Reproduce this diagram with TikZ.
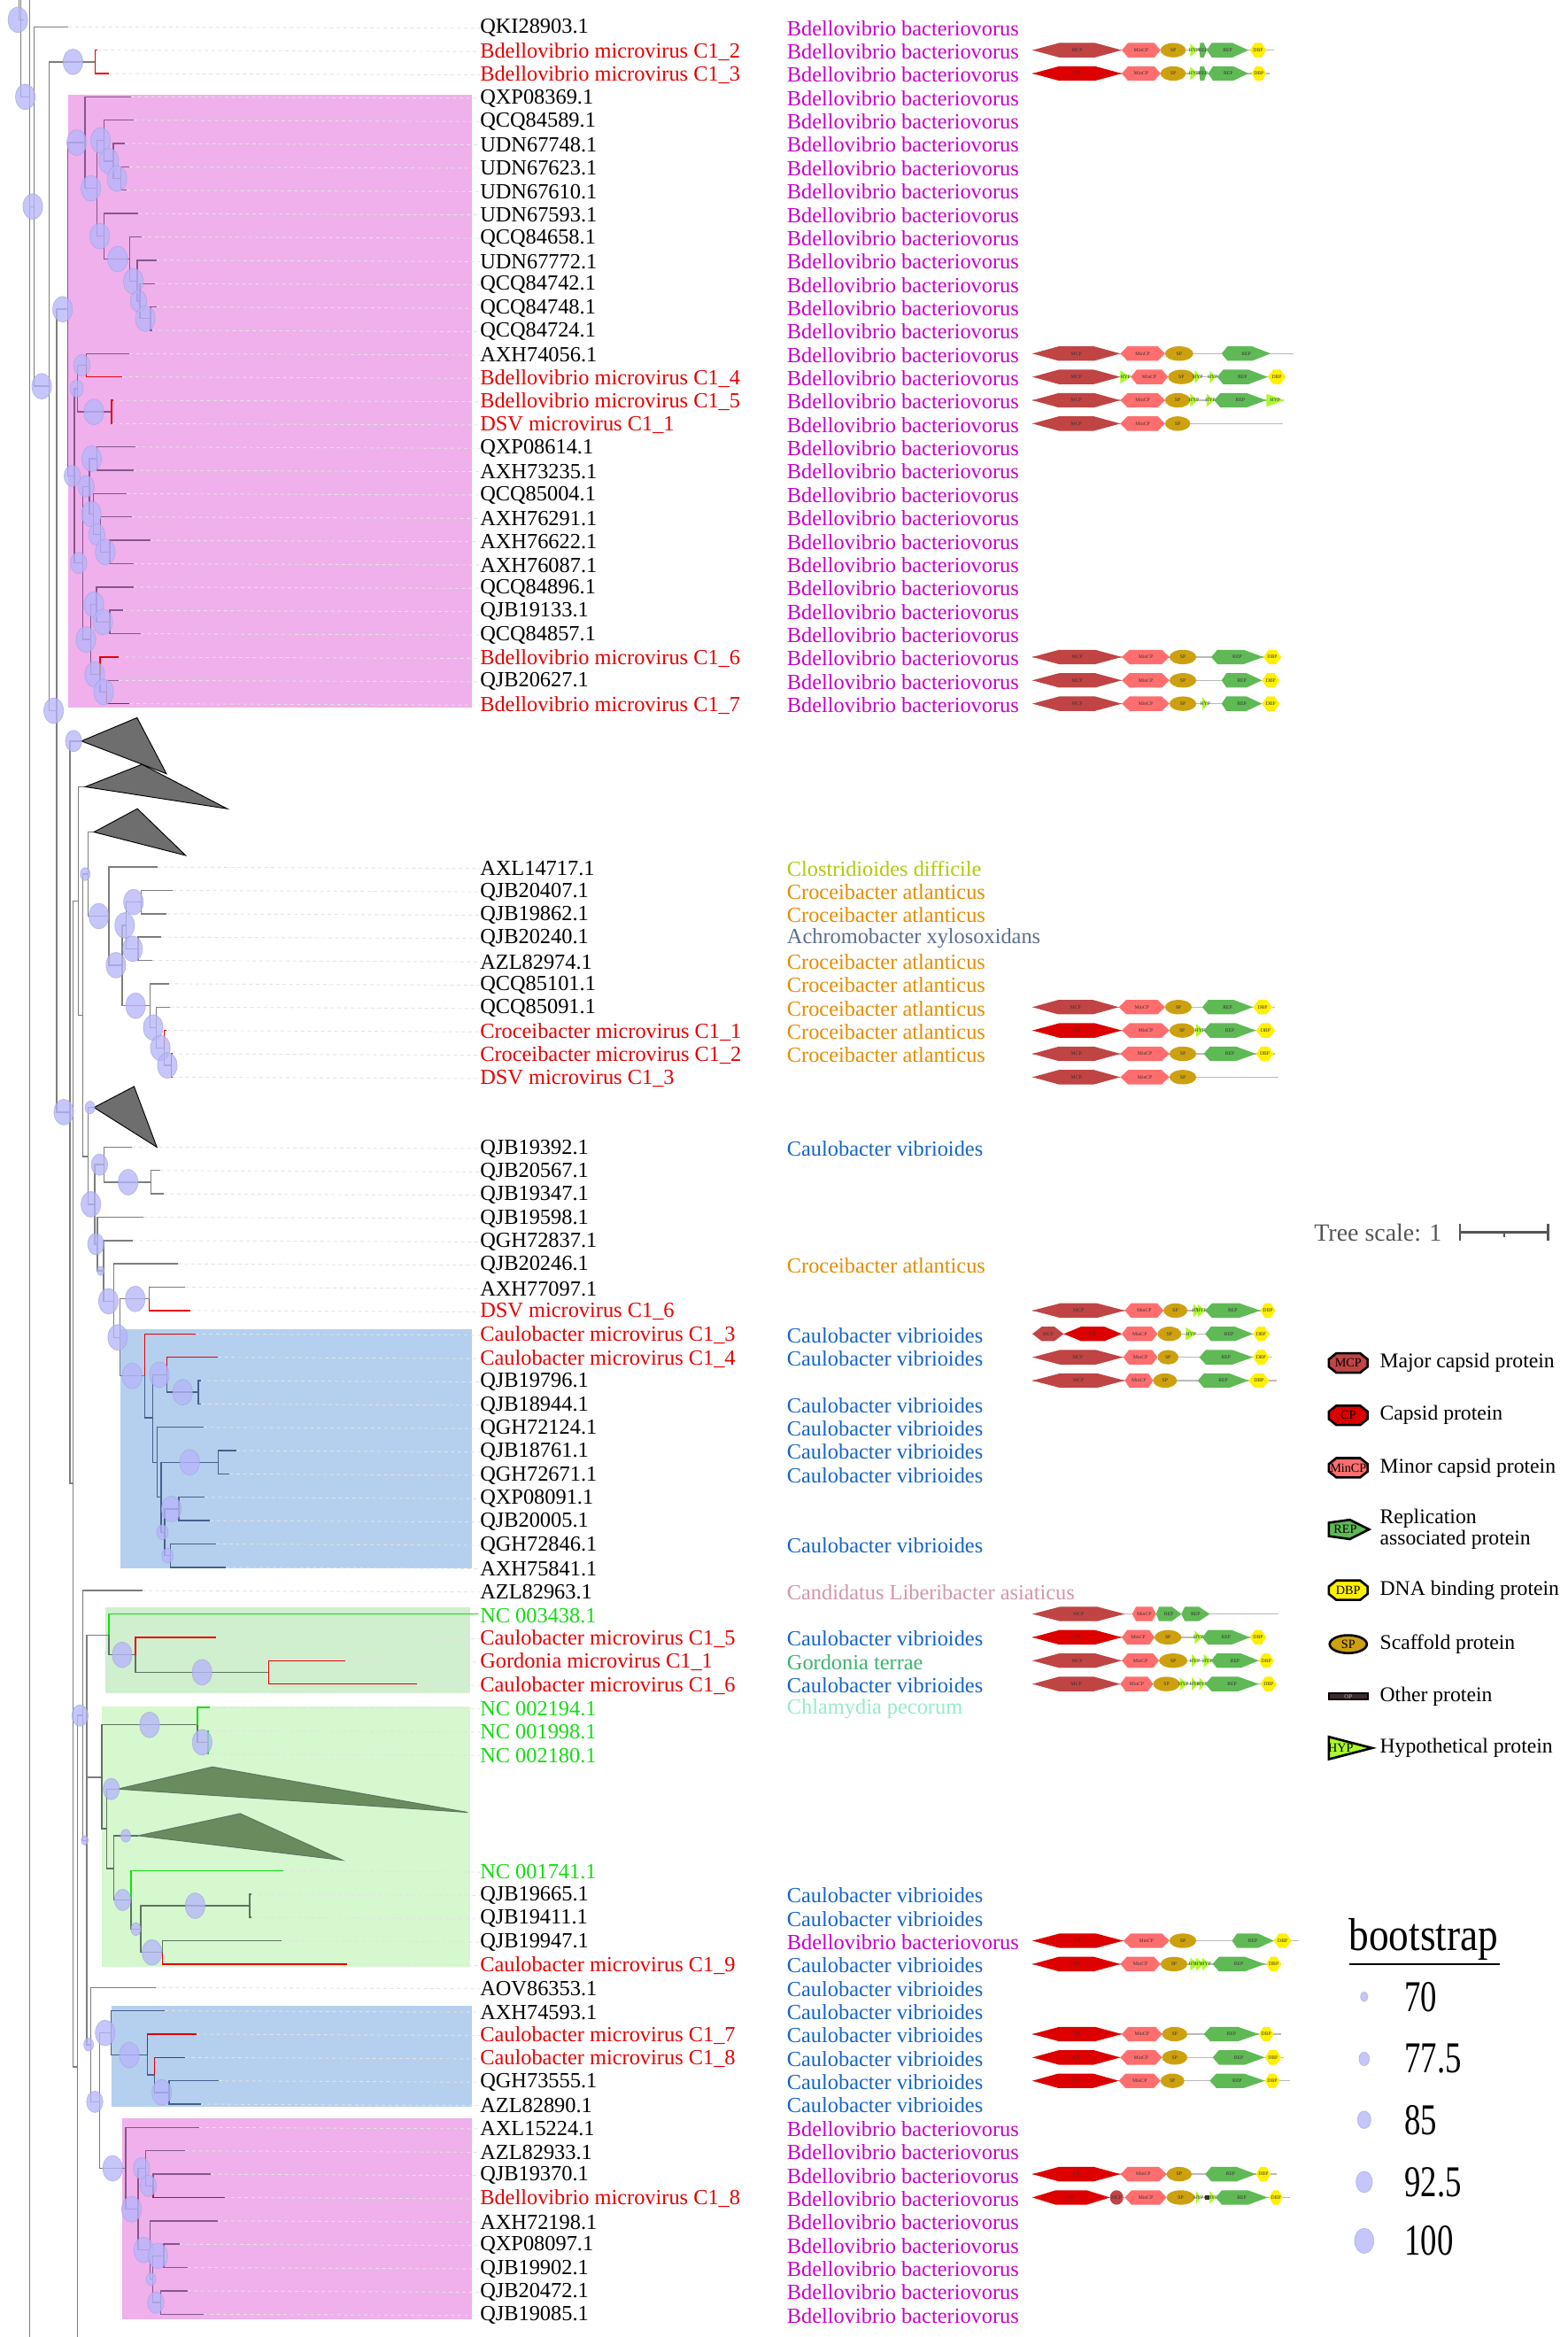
\documentclass[tikz,border=0pt]{standalone}
\usepackage{fontspec}
\setmainfont{Liberation Serif}
\usetikzlibrary{positioning}

\definecolor{treegray}{RGB}{125,125,125}
\definecolor{pinkline}{RGB}{135,85,140}
\definecolor{blueline}{RGB}{70,95,140}
\definecolor{gboxline}{RGB}{95,115,95}
\definecolor{leafred}{RGB}{230,0,0}
\definecolor{ncgreen}{RGB}{20,220,20}
\definecolor{pinkbox}{RGB}{239,176,236}
\definecolor{bluebox}{RGB}{180,208,238}
\definecolor{greenA}{RGB}{208,239,206}
\definecolor{greenB}{RGB}{213,248,206}
\definecolor{bsfill}{RGB}{182,182,250}
\definecolor{bsline}{RGB}{160,160,220}
\definecolor{cladegray}{RGB}{110,110,110}
\definecolor{cladegreen}{RGB}{104,140,94}
\definecolor{hostBd}{RGB}{200,0,200}
\definecolor{hostCr}{RGB}{230,140,0}
\definecolor{hostCl}{RGB}{180,200,10}
\definecolor{hostAc}{RGB}{90,110,140}
\definecolor{hostCa}{RGB}{20,100,200}
\definecolor{hostLi}{RGB}{210,150,170}
\definecolor{hostGo}{RGB}{60,180,110}
\definecolor{hostCh}{RGB}{150,235,200}
\definecolor{mcpcol}{RGB}{192,68,68}
\definecolor{cpcol}{RGB}{220,0,0}
\definecolor{mincol}{RGB}{255,110,110}
\definecolor{spcol}{RGB}{205,160,15}
\definecolor{repcol}{RGB}{95,185,85}
\definecolor{dbpcol}{RGB}{255,240,0}
\definecolor{hypcol}{RGB}{170,250,40}
\definecolor{opcol}{RGB}{60,45,45}
\definecolor{scalegray}{RGB}{85,85,85}

\newcommand\hBd{Bdellovibrio bacteriovorus}
\newcommand\hCr{Croceibacter atlanticus}
\newcommand\hCl{Clostridioides difficile}
\newcommand\hAc{Achromobacter xylosoxidans}
\newcommand\hCa{Caulobacter vibrioides}
\newcommand\hLi{Candidatus Liberibacter asiaticus}
\newcommand\hGo{Gordonia terrae}
\newcommand\hCh{Chlamydia pecorum}

\newcounter{gid}
\newcommand\gtag[4]{\stepcounter{gid}\node[gtxt] (gene\arabic{gid}) at ({(#1+#2)/2},#3) {#4};}
\newcommand\ghex[5]{\fill[#5] (#1,#3) -- ({#1+#4*(#2-#1)},#3-0.31) -- ({#2-#4*(#2-#1)},#3-0.31) -- (#2,#3) -- ({#2-#4*(#2-#1)},#3+0.31) -- ({#1+#4*(#2-#1)},#3+0.31) -- cycle;}
\newcommand\gMCP[3]{\ghex{#1}{#2}{#3}{0.3}{mcpcol}\gtag{#1}{#2}{#3}{MCP}}
\newcommand\gCP[3]{\ghex{#1}{#2}{#3}{0.3}{cpcol}\gtag{#1}{#2}{#3}{CP}}
\newcommand\gMin[3]{\ghex{#1}{#2}{#3}{0.16}{mincol}\gtag{#1}{#2}{#3}{MinCP}}
\newcommand\gDBP[3]{\ghex{#1}{#2}{#3}{0.3}{dbpcol}\gtag{#1}{#2}{#3}{DBP}}
\newcommand\gSP[3]{\fill[spcol] ({(#1+#2)/2},#3) ellipse [x radius={(#2-#1)/2}, y radius=0.31];\gtag{#1}{#2}{#3}{SP}}
\newcommand\gMCc[3]{\fill[mcpcol] ({(#1+#2)/2},#3) ellipse [x radius={(#2-#1)/2}, y radius=0.31];\gtag{#1}{#2}{#3}{MCP}}
\newcommand\gREP[3]{\fill[repcol] (#1,#3) -- ({#1+0.12*(#2-#1)},#3-0.31) -- ({#1+0.62*(#2-#1)},#3-0.31) -- (#2,#3) -- ({#1+0.62*(#2-#1)},#3+0.31) -- ({#1+0.12*(#2-#1)},#3+0.31) -- cycle;\gtag{#1}{#2}{#3}{REP}}
\newcommand\gHYP[3]{\fill[hypcol] (#1,#3-0.28) -- (#2,#3) -- (#1,#3+0.28) -- cycle;\gtag{#1}{#2}{#3}{HYP}}
\newcommand\gOP[3]{\fill[opcol] (#1,#3-0.08) rectangle (#2,#3+0.08);\gtag{#1}{#2}{#3}{OP}}
\newcommand\gbl[3]{\draw[gbase] (#1,#3) -- (#2,#3);}
\newcommand\lgoct[3]{\filldraw[lgsym, fill=#2] (892,#1-2.5) -- (897,#1-6.5) -- (913,#1-6.5) -- (918,#1-2.5) -- (918,#1+2.5) -- (913,#1+6.5) -- (897,#1+6.5) -- (892,#1+2.5) -- cycle;
  \node[lgin] (lg#3) at (905,#1) {#3};}

\tikzset{
    brgray/.style = {draw=treegray, line width=0.6pt},
    brpink/.style = {draw=pinkline, line width=0.6pt},
    brblue/.style = {draw=blueline, line width=0.6pt},
    brgbox/.style = {draw=gboxline, line width=0.6pt},
    brred/.style = {draw=leafred, line width=0.6pt},
    brgrn/.style = {draw=ncgreen, line width=0.6pt},
    lead/.style = {draw=gray!22, line width=0.4pt, dash pattern=on 1.6pt off 1.6pt},
    lab/.style = {anchor=west, inner sep=0pt, font=\fontsize{10.3}{12}\selectfont},
    labk/.style = {text=black},
    labr/.style = {text=leafred},
    labg/.style = {text=ncgreen},
    host/.style = {anchor=west, inner sep=0pt, font=\fontsize{10.3}{12}\selectfont},
    cBd/.style = {text=hostBd}, cCr/.style = {text=hostCr}, cCl/.style = {text=hostCl},
    cAc/.style = {text=hostAc}, cCa/.style = {text=hostCa}, cLi/.style = {text=hostLi},
    cGo/.style = {text=hostGo}, cCh/.style = {text=hostCh},
    bs/.style = {fill=bsfill, fill opacity=0.78, draw=bsline, draw opacity=0.6, line width=0.3pt},
    clade/.style = {fill=cladegray, draw=black, line width=0.4pt},
    gclade/.style = {fill=cladegreen, draw=gboxline, line width=0.4pt},
    gtxt/.style = {inner sep=0pt, font=\fontsize{2.4}{3}\selectfont, text=black!80},
    gbase/.style = {draw=gray!55, line width=0.6pt},
    lgsym/.style = {draw=black, line width=1.1pt, line join=miter},
    lgin/.style = {inner sep=0pt, font=\fontsize{6}{7}\selectfont},
    lgtext/.style = {anchor=west, inner sep=0pt, font=\fontsize{10}{12}\selectfont},
    scalebar/.style = {draw=scalegray, line width=1.1pt}
}

\begin{document}
\begin{tikzpicture}[x=0.025cm,y=-0.3915cm]
\fill[white] (0,-1.1494) rectangle (1052,98.978);
\useasboundingbox (0,-1.1494) rectangle (1052,98.978);

% clade boxes
\fill[pinkbox] (46,2.9) rectangle (316.7,29.15);
\fill[bluebox] (80.6,55.8) rectangle (316.7,66.05);
\fill[greenA] (71,67.7) rectangle (315.6,71.4);
\fill[greenB] (68.3,71.95) rectangle (315.6,83.1);
\fill[bluebox] (74.9,84.8) rectangle (316.7,89.1);
\fill[pinkbox] (82.3,89.6) rectangle (316.7,98.2);

% inner nodes
\coordinate (rA) at (13.8,-1.15); \coordinate (rB) at (20,-1.15); \coordinate (rC) at (20,98.98);
\coordinate (rT0) at (12.7,-1.15); \coordinate (rT1) at (15.9,-0.3); \coordinate (nR) at (20,3.0);
\coordinate (nA) at (23,7.7); \coordinate (nB) at (33,15.4); \coordinate (nC) at (64,1.5); \coordinate (nD) at (38,29.3);
\coordinate (PK) at (45.6,12.1); \coordinate (PA) at (57,4.96); \coordinate (PA2) at (65,6.92); \coordinate (PA3) at (70,4.875);
\coordinate (PA5) at (76,5.75); \coordinate (PA6) at (81,6.5); \coordinate (PA4) at (70,8.97); \coordinate (PA7) at (87,9.95);
\coordinate (PA8) at (92,10.9); \coordinate (PA9) at (94,11.75); \coordinate (PA10) at (101,12.5);
\coordinate (PB) at (50,19.24); \coordinate (PC) at (52,15.5); \coordinate (PC1) at (58,14.5); \coordinate (PC2) at (75,16.5);
\coordinate (PD) at (55.6,22.97); \coordinate (PE) at (60,19.69); \coordinate (PE1) at (65,18.5); \coordinate (PE2) at (62.6,20.875);
\coordinate (PE3) at (67.5,21.75); \coordinate (PE4) at (73.6,22.5); \coordinate (PF) at (61,26.25); \coordinate (PF1) at (64.7,24.75);
\coordinate (PF3) at (73.8,25.5); \coordinate (PF2) at (67.2,27.75); \coordinate (PF4) at (71.7,28.5);
\coordinate (X1) at (47,46.5); \coordinate (T1) at (54.7,30.6); \coordinate (X2) at (49.2,62.4); \coordinate (A0) at (52.5,37.45);
\coordinate (T2) at (57.2,32.56); \coordinate (A) at (55.6,42.35); \coordinate (A2) at (59,36.3); \coordinate (T3) at (63.1,34.5);
\coordinate (Cr) at (73.1,38.1); \coordinate (Cr2) at (82,40.2); \coordinate (Cr3) at (84.7,38.5); \coordinate (Cr3a) at (94.7,37.5);
\coordinate (Cr3b) at (92.8,39.5); \coordinate (Cr5) at (100.6,41.94); \coordinate (Cr6) at (104.9,42.875); \coordinate (Cr7) at (110.2,43.75);
\coordinate (Cr8) at (115,44.5); \coordinate (B0) at (59,48.4); \coordinate (T4) at (63.1,46.3); \coordinate (B2) at (63.6,50.45);
\coordinate (B1) at (70,48.75); \coordinate (B1b) at (101.4,49.5); \coordinate (B3) at (65.3,52.15); \coordinate (C1) at (69.6,53.3);
\coordinate (C2) at (76.4,54.6); \coordinate (C3) at (80.6,56.15); \coordinate (D6) at (100.3,54.5); \coordinate (C4) at (97,57.8);
\coordinate (Q) at (102.5,59.6); \coordinate (C5) at (112,57.75); \coordinate (C6) at (133.2,58.5); \coordinate (C7) at (105.4,61.5);
\coordinate (C8) at (108.2,63); \coordinate (C9) at (146.4,61.5); \coordinate (C10) at (110.5,64.5); \coordinate (C11) at (120,63.5);
\coordinate (C12) at (114.5,65.5);
\coordinate (Y) at (52,87.4); \coordinate (Yb) at (52,98.98); \coordinate (V1) at (55.6,72.35); \coordinate (V2) at (58.3,77.7);
\coordinate (G1) at (73.2,68.9); \coordinate (G1b) at (91,69.75); \coordinate (G1c) at (180.3,70.5); \coordinate (G2) at (68.3,75);
\coordinate (G2a) at (132.6,72.75); \coordinate (G2a2) at (139.6,73.5); \coordinate (G2h) at (71.7,77.2); \coordinate (T5) at (78.9,75.5);
\coordinate (G2g) at (76.4,78.9); \coordinate (T6) at (92.7,77.5); \coordinate (G2f) at (88,80.25); \coordinate (G2c) at (94.4,81.5);
\coordinate (G2d) at (167.6,80.5); \coordinate (G2e) at (109.2,82.5); \coordinate (V3) at (61,86.45); \coordinate (V4) at (67,88.9);
\coordinate (BL) at (74.7,85.95); \coordinate (BL2) at (98.9,86.9); \coordinate (BL3) at (103.6,87.75); \coordinate (BL4) at (113.5,88.5);
\coordinate (PK2) at (84.4,91.75); \coordinate (PK3) at (92.7,93.5); \coordinate (PK4) at (97.6,91.75); \coordinate (PK5) at (102.9,92.5);
\coordinate (PK6) at (100.8,95.25); \coordinate (PK9) at (102.5,96.5); \coordinate (PK7) at (110,95.5); \coordinate (PK8) at (107.8,97.5);

% leaf tips
\foreach \s/\x in {0/46,1/65.5,2/73,3/88,4/90,5/84,6/87,7/85,8/93,9/95,10/105,11/104,12/105,13/102,14/87,15/82,16/75.8,17/75.5,
  18/91,19/89.5,20/85,21/88.5,22/100.8,23/90,24/89.7,25/82.7,26/94.4,27/79.5,28/79.5,29/87,
  36/105.5,37/116,38/112,39/108,40/102,41/113.3,42/114,43/112,44/115.6,45/115.6,
  48/88.7,49/107.8,50/110,51/96.5,52/89,53/119.4,54/124.5,55/128,56/131.5,57/146.4,58/134.7,59/135.2,60/136.4,61/158.7,
  62/154.2,63/137.4,64/141,65/145,66/151.7,67/95.5,68/321,69/145.3,70/232,71/280,72/140.6,73/140.5,74/140.5,
  79/190,80/168.5,81/168.5,82/188.8,83/233,84/104.4,85/110.7,86/131.8,87/124,88/146.8,89/134.7,90/133.6,91/124.3,
  92/141.7,93/150.7,94/146,95/120.6,96/126,97/125.8,98/136.4}
  \coordinate (t\s) at (\x,\s);

% leaf labels
\foreach \s/\n/\c in {0/QKI28903.1/labk, 1/Bdellovibrio microvirus C1\_2/labr, 2/Bdellovibrio microvirus C1\_3/labr,
  3/QXP08369.1/labk, 4/QCQ84589.1/labk, 5/UDN67748.1/labk, 6/UDN67623.1/labk, 7/UDN67610.1/labk, 8/UDN67593.1/labk,
  9/QCQ84658.1/labk, 10/UDN67772.1/labk, 11/QCQ84742.1/labk, 12/QCQ84748.1/labk, 13/QCQ84724.1/labk, 14/AXH74056.1/labk,
  15/Bdellovibrio microvirus C1\_4/labr, 16/Bdellovibrio microvirus C1\_5/labr, 17/DSV microvirus C1\_1/labr,
  18/QXP08614.1/labk, 19/AXH73235.1/labk, 20/QCQ85004.1/labk, 21/AXH76291.1/labk, 22/AXH76622.1/labk, 23/AXH76087.1/labk,
  24/QCQ84896.1/labk, 25/QJB19133.1/labk, 26/QCQ84857.1/labk, 27/Bdellovibrio microvirus C1\_6/labr, 28/QJB20627.1/labk,
  29/Bdellovibrio microvirus C1\_7/labr,
  36/AXL14717.1/labk, 37/QJB20407.1/labk, 38/QJB19862.1/labk, 39/QJB20240.1/labk, 40/AZL82974.1/labk, 41/QCQ85101.1/labk,
  42/QCQ85091.1/labk, 43/Croceibacter microvirus C1\_1/labr, 44/Croceibacter microvirus C1\_2/labr, 45/DSV microvirus C1\_3/labr,
  48/QJB19392.1/labk, 49/QJB20567.1/labk, 50/QJB19347.1/labk, 51/QJB19598.1/labk, 52/QGH72837.1/labk, 53/QJB20246.1/labk,
  54/AXH77097.1/labk, 55/DSV microvirus C1\_6/labr, 56/Caulobacter microvirus C1\_3/labr, 57/Caulobacter microvirus C1\_4/labr,
  58/QJB19796.1/labk, 59/QJB18944.1/labk, 60/QGH72124.1/labk, 61/QJB18761.1/labk, 62/QGH72671.1/labk, 63/QXP08091.1/labk,
  64/QJB20005.1/labk, 65/QGH72846.1/labk, 66/AXH75841.1/labk, 67/AZL82963.1/labk, 68/NC 003438.1/labg,
  69/Caulobacter microvirus C1\_5/labr, 70/Gordonia microvirus C1\_1/labr, 71/Caulobacter microvirus C1\_6/labr,
  72/NC 002194.1/labg, 73/NC 001998.1/labg, 74/NC 002180.1/labg, 79/NC 001741.1/labg,
  80/QJB19665.1/labk, 81/QJB19411.1/labk, 82/QJB19947.1/labk, 83/Caulobacter microvirus C1\_9/labr, 84/AOV86353.1/labk,
  85/AXH74593.1/labk, 86/Caulobacter microvirus C1\_7/labr, 87/Caulobacter microvirus C1\_8/labr, 88/QGH73555.1/labk,
  89/AZL82890.1/labk, 90/AXL15224.1/labk, 91/AZL82933.1/labk, 92/QJB19370.1/labk, 93/Bdellovibrio microvirus C1\_8/labr,
  94/AXH72198.1/labk, 95/QXP08097.1/labk, 96/QJB19902.1/labk, 97/QJB20472.1/labk, 98/QJB19085.1/labk}
{
  \node[lab,\c] (l\s) at (322,\s+0.06) {\n};
  \draw[lead] (t\s) -- (l\s.west);
}

% branches
\draw[brgray] (rB) -- (rC);
\draw[brgray] (rA) |- (nR);
\draw[brgray] (rT0) |- (rT1);
\draw[brgray] (rB) |- (nA);
\foreach \p/\c in {nA/t0,nA/nB,nB/nC,nB/nD,nD/PK,nD/X1,X1/T1,X1/X2,X2/A0,X2/Y,Y/Yb,A0/T2,A0/A,A/A2,A/B0,A2/T3,A2/Cr,
  Cr/t36,Cr/Cr2,Cr2/Cr3,Cr2/Cr5,Cr3/Cr3a,Cr3/Cr3b,Cr3a/t37,Cr3a/t38,Cr3b/t39,Cr3b/t40,Cr5/t41,Cr5/Cr6,Cr6/t42,Cr6/Cr7,
  Cr7/Cr8,B0/T4,B0/B2,B2/B1,B2/B3,B1/t48,B1/B1b,B1b/t49,B1b/t50,B3/t51,B3/C1,C1/t52,C1/C2,C2/t53,C2/C3,C3/D6,C3/C4,D6/t54,
  Y/V1,V1/t67,V1/V2,V2/G1,V2/G2,V2/V3,V3/t84,V3/V4,V4/BL,V4/PK2}
  \draw[brgray] (\p) |- (\c);
\foreach \p/\c in {PK/PA,PK/PB,PA/t3,PA/PA2,PA2/PA3,PA2/PA4,PA3/t4,PA3/PA5,PA5/t5,PA5/PA6,PA6/t6,PA6/t7,PA4/t8,PA4/PA7,
  PA7/t9,PA7/PA8,PA8/t10,PA8/PA9,PA9/t11,PA9/PA10,PA10/t12,PA10/t13,PB/PC,PB/PD,PC/PC1,PC/PC2,PC1/t14,PD/PE,PD/PF,
  PE/PE1,PE/PE2,PE1/t18,PE1/t19,PE2/t20,PE2/PE3,PE3/t21,PE3/PE4,PE4/t22,PE4/t23,PF/PF1,PF/PF2,PF1/t24,PF1/PF3,PF3/t25,
  PF3/t26,PF2/PF4,PF4/t28,PK2/t90,PK2/PK3,PK3/PK4,PK3/PK6,PK4/t91,PK4/PK5,PK5/t92,PK6/t94,PK6/PK9,PK9/PK7,PK9/PK8,
  PK7/t95,PK7/t96,PK8/t97,PK8/t98}
  \draw[brpink] (\p) |- (\c);
\foreach \p/\c in {C4/Q,Q/C5,Q/C7,C5/C6,C6/t58,C6/t59,C7/t60,C7/C8,C8/C9,C8/C10,C9/t61,C9/t62,C10/C11,C10/C12,C11/t63,
  C11/t64,C12/t65,C12/t66,BL/t85,BL/BL2,BL2/BL3,BL3/BL4,BL4/t88,BL4/t89}
  \draw[brblue] (\p) |- (\c);
\foreach \p/\c in {G1/G1b,G1b/G1c,G2/G2a,G2a/G2a2,G2/G2h,G2h/T5,G2h/G2g,G2g/T6,G2g/G2f,G2f/G2c,G2c/G2d,G2c/G2e,
  G2d/t80,G2d/t81,G2e/t82}
  \draw[brgbox] (\p) |- (\c);
\foreach \p/\c in {nC/t1,nC/t2,PC1/t15,PC2/t16,PC2/t17,PF2/t27,PF4/t29,Cr7/t43,Cr8/t44,Cr8/t45,D6/t55,C4/t56,C5/t57,
  G1b/t69,G1c/t70,G1c/t71,G2e/t83,BL2/t86,BL3/t87,PK5/t93}
  \draw[brred] (\p) |- (\c);
\foreach \p/\c in {G1/t68,G2a/t72,G2a2/t73,G2a2/t74,G2f/t79}
  \draw[brgrn] (\p) |- (\c);

% collapsed clades
\filldraw[clade] (T1) -- (92,29.6) -- (111.7,32.0) -- cycle;
\filldraw[clade] (T2) -- (95.3,31.6) -- (152.5,33.5) -- cycle;
\filldraw[clade] (T3) -- (92.2,33.5) -- (124.6,35.5) -- cycle;
\filldraw[clade] (T4) -- (90,45.4) -- (105.3,48.0) -- cycle;
\filldraw[gclade] (T5) -- (142.6,74.55) -- (314,76.5) -- cycle;
\filldraw[gclade] (T6) -- (161.2,76.55) -- (230,78.55) -- cycle;

% bootstrap
\foreach \x/\y/\r in {12/-0.3/6,17/3.0/6,22/7.7/6,28/15.4/6,49/1.5/6,42/12.1/6,36/29.3/6,
  51.5/4.96/6,61/6.92/6,67.5/4.875/6,73/5.75/6,78.5/6.5/6,67/8.97/6,79/9.95/6,89.5/10.9/6,93/11.75/5,97.5/12.5/6,
  48.5/19.24/5,51.5/15.5/4,55/14.5/5,63/16.5/6,52.8/22.97/5,57.8/19.69/5,61.5/18.5/6,61.3/20.875/6,65/21.75/5,
  70.6/22.5/6,57.7/26.25/6,63/24.75/6,69/25.5/6,63.6/27.75/6,69.6/28.5/6,
  49.4/30.6/5,42.8/46.5/6,57.2/36.3/3,66.3/38.1/6,77.8/40.2/6,83.7/38.5/6,89.6/37.5/6,89/39.5/6,91/41.94/6,
  102.8/42.875/6,107.6/43.75/6,112.3/44.5/6,60.4/46.3/3,
  66.8/48.75/5,86/49.5/6,61/50.45/6,64.3/52.15/5,67.5/53.3/2.2,72.8/54.6/6,90.8/54.5/6,79/56.15/6,88.7/57.8/6,
  107/57.75/6,122.6/58.5/6,127.3/61.5/6,115/63.5/6,109/64.5/3.5,112.5/65.5/3.5,
  53.7/72.35/5,56.9/77.7/2.2,82/69.75/6,135.6/70.5/6,100.4/72.75/6,135.7/73.5/6,74.7/75.5/5,84.4/77.5/3,82.3/80.25/5,
  91.2/81.5/3,131/80.5/6,102/82.5/6,59.5/86.45/3,63.6/88.9/5,70.6/85.95/6,86.8/86.9/6,108.6/88.5/6,75.6/91.75/6,
  95/91.75/5,99.6/92.5/5,88.3/93.5/6,96.5/95.25/6,106/95.5/6,101.4/96.5/3,104.6/97.5/5}
  \filldraw[bs] (\x,\y) ellipse [x radius=1.1*\r, y radius=\r*0.092];

% hosts
\foreach \s/\h in {0/Bd,1/Bd,2/Bd,3/Bd,4/Bd,5/Bd,6/Bd,7/Bd,8/Bd,9/Bd,10/Bd,11/Bd,12/Bd,13/Bd,14/Bd,15/Bd,16/Bd,17/Bd,
  18/Bd,19/Bd,20/Bd,21/Bd,22/Bd,23/Bd,24/Bd,25/Bd,26/Bd,27/Bd,28/Bd,29/Bd,36/Cl,37/Cr,38/Cr,39/Ac,40/Cr,41/Cr,42/Cr,
  43/Cr,44/Cr,48/Ca,53/Cr,56/Ca,57/Ca,59/Ca,60/Ca,61/Ca,62/Ca,65/Ca,67/Li,69/Ca,70/Go,71/Ca,72/Ch,80/Ca,81/Ca,82/Bd,
  83/Ca,84/Ca,85/Ca,86/Ca,87/Ca,88/Ca,89/Ca,90/Bd,91/Bd,92/Bd,93/Bd,94/Bd,95/Bd,96/Bd,97/Bd,98/Bd}
  \node[host,c\h] (h\s) at (528,\s+0.06) {\csname h\h\endcsname};

% genome maps
\gbl{693}{855}{1}\gMCP{693}{753}{1}\gMin{753}{779}{1}\gSP{779}{796}{1}\gHYP{799}{804}{1}\gREP{805}{810}{1}\gREP{810}{838}{1}\gDBP{839}{850}{1}
\gbl{693}{852}{2}\gCP{693}{753}{2}\gMin{753}{779}{2}\gSP{779}{796}{2}\gHYP{799}{804}{2}\gREP{805}{810}{2}\gREP{811}{838}{2}\gDBP{840}{850}{2}
\gbl{693}{868}{14}\gMCP{693}{752}{14}\gMin{752}{782}{14}\gSP{782}{801}{14}\gREP{820}{853}{14}
\gbl{693}{863}{15}\gMCP{693}{752}{15}\gHYP{752}{759}{15}\gMin{759}{784}{15}\gSP{784}{802}{15}\gHYP{802}{806}{15}\gHYP{812}{816}{15}\gREP{817}{851}{15}\gDBP{851}{863}{15}
\gbl{693}{862}{16}\gMCP{693}{752}{16}\gMin{752}{782}{16}\gSP{782}{799}{16}\gHYP{799}{804}{16}\gHYP{810}{815}{16}\gREP{815}{850}{16}\gHYP{850}{862}{16}
\gbl{693}{861}{17}\gMCP{693}{752}{17}\gMin{752}{782}{17}\gSP{782}{799}{17}
\gbl{693}{860}{27}\gMCP{693}{753}{27}\gMin{753}{785}{27}\gSP{785}{803}{27}\gREP{813}{848}{27}\gDBP{848}{860}{27}
\gbl{693}{859}{28}\gMCP{693}{753}{28}\gMin{753}{785}{28}\gSP{785}{803}{28}\gREP{820}{847}{28}\gDBP{847}{859}{28}
\gbl{693}{859}{29}\gMCP{693}{753}{29}\gMin{753}{785}{29}\gSP{785}{803}{29}\gHYP{807}{811}{29}\gREP{820}{847}{29}\gDBP{847}{859}{29}
\gbl{693}{856}{42}\gMCP{693}{751}{42}\gMin{751}{782}{42}\gSP{782}{800}{42}\gREP{807}{841}{42}\gDBP{841}{854}{42}
\gbl{693}{856}{43}\gCP{693}{753}{43}\gMin{753}{785}{43}\gSP{785}{802}{43}\gHYP{803}{808}{43}\gREP{808}{843}{43}\gDBP{843}{856}{43}
\gbl{693}{856}{44}\gMCP{693}{752}{44}\gMin{752}{785}{44}\gSP{785}{803}{44}\gREP{808}{843}{44}\gDBP{843}{855}{44}
\gbl{693}{858}{45}\gMCP{693}{752}{45}\gMin{752}{785}{45}\gSP{785}{803}{45}
\gbl{693}{856}{55}\gMCP{693}{755}{55}\gMin{755}{781}{55}\gSP{781}{797}{55}\gHYP{801}{806}{55}\gHYP{804}{809}{55}\gREP{809}{846}{55}\gDBP{846}{856}{55}
\gbl{693}{852}{56}\gMCP{693}{714}{56}\gCP{714}{753}{56}\gMin{753}{777}{56}\gSP{777}{793}{56}\gHYP{796}{803}{56}\gREP{809}{841}{56}\gDBP{841}{852}{56}
\gbl{693}{854}{57}\gMCP{693}{754}{57}\gMin{754}{777}{57}\gSP{777}{791}{57}\gREP{805}{841}{57}\gDBP{841}{852}{57}
\gbl{693}{857}{58}\gMCP{693}{755}{58}\gMin{755}{774}{58}\gSP{774}{790}{58}\gREP{804}{838}{58}\gDBP{838}{852}{58}
\gbl{693}{858}{68}\gMCP{693}{755}{68}\gMin{760}{776}{68}\gREP{776}{793}{68}\gREP{793}{812}{68}
\gbl{693}{850}{69}\gCP{693}{753}{69}\gMin{753}{775}{69}\gSP{775}{793}{69}\gHYP{802}{807}{69}\gREP{807}{839}{69}\gDBP{839}{850}{69}
\gbl{693}{855}{70}\gMCP{693}{753}{70}\gMin{753}{778}{70}\gSP{778}{797}{70}\gHYP{800}{804}{70}\gHYP{808}{813}{70}\gREP{813}{845}{70}\gDBP{845}{855}{70}
\gbl{693}{857}{71}\gMCP{693}{752}{71}\gMin{752}{774}{71}\gSP{774}{792}{71}\gHYP{792}{797}{71}\gHYP{800}{804}{71}\gHYP{805}{809}{71}\gREP{809}{845}{71}\gDBP{846}{857}{71}
\gbl{693}{872}{82}\gCP{693}{754}{82}\gMin{754}{785}{82}\gSP{785}{803}{82}\gREP{827}{855}{82}\gDBP{855}{867}{82}
\gbl{693}{860}{83}\gCP{693}{752}{83}\gMin{752}{779}{83}\gSP{779}{797}{83}\gHYP{799}{804}{83}\gHYP{803}{808}{83}\gHYP{807}{812}{83}\gREP{814}{849}{83}\gDBP{850}{860}{83}
\gbl{693}{860}{86}\gCP{693}{753}{86}\gMin{753}{780}{86}\gSP{780}{797}{86}\gREP{808}{845}{86}\gDBP{845}{855}{86}
\gbl{693}{862}{87}\gCP{693}{752}{87}\gMin{752}{780}{87}\gSP{780}{797}{87}\gREP{814}{849}{87}\gDBP{849}{860}{87}
\gbl{693}{866}{88}\gCP{693}{751}{88}\gMin{751}{779}{88}\gSP{779}{795}{88}\gREP{812}{849}{88}\gDBP{849}{859}{88}
\gbl{693}{857}{92}\gCP{693}{752}{92}\gMin{752}{783}{92}\gSP{783}{800}{92}\gREP{809}{843}{92}\gDBP{843}{853}{92}
\gbl{693}{866}{93}\gCP{693}{745}{93}\gMCc{745}{754}{93}\gMin{755}{783}{93}\gSP{783}{802}{93}\gHYP{803}{806}{93}\gOP{809}{812}{93}\gHYP{812}{816}{93}\gREP{816}{851}{93}\gDBP{852}{861}{93}

% legends
\begin{scope}[y=-0.025cm]
\node[anchor=east, inner sep=0pt, text=scalegray, font=\fontsize{11.8}{14}\selectfont] (tscale) at (968,809) {Tree scale: 1};
\coordinate (sbL) at (980,809); \coordinate (sbM) at (1009.8,809); \coordinate (sbR) at (1039,809);
\draw[scalebar] (sbL) -- (sbR);
\draw[scalebar] ([yshift=4pt]sbL) -- ([yshift=-4pt]sbL);
\draw[scalebar] ([yshift=4pt]sbR) -- ([yshift=-4pt]sbR);
\draw[scalebar, line width=0.9pt] (sbM) -- ([yshift=-2.5pt]sbM);

\lgoct{896.7}{mcpcol}{MCP}
\lgoct{931.8}{cpcol}{CP}
\lgoct{967}{mincol}{MinCP}
\filldraw[lgsym, fill=repcol] (892,1008.4-4.5) -- (906,1008.4-6.5) -- (919,1008.4) -- (906,1008.4+6.5) -- (892,1008.4+4.5) -- cycle;
\node[lgin] (lgREP) at (903,1008.4) {REP};
\lgoct{1049.2}{dbpcol}{DBP}
\filldraw[lgsym, fill=spcol] (905,1085.4) ellipse [x radius=12.5, y radius=6];
\node[lgin] (lgSP) at (905,1085.4) {SP};
\filldraw[lgsym, fill=opcol, line width=0.8pt] (892,1120.5-2) rectangle (918,1120.5+2);
\node[lgin, font=\fontsize{3}{4}\selectfont, text=gray!60] (lgOP) at (905,1120.5) {OP};
\filldraw[lgsym, fill=hypcol] (892,1155.1-7.5) -- (921,1155.1) -- (892,1155.1+7.5) -- cycle;
\node[lgin] (lgHYP) at (900,1155.1) {HYP};

\node[lgtext] (tMCP) at (926,896.7) {Major capsid protein};
\node[lgtext] (tCP) at (926,931.8) {Capsid protein};
\node[lgtext] (tMinCP) at (926,967) {Minor capsid protein};
\node[lgtext, align=left, font=\fontsize{10}{8.8}\selectfont] (tREP) at (926,1008.4) {Replication\\associated protein};
\node[lgtext] (tDBP) at (926,1049.2) {DNA binding protein};
\node[lgtext] (tSP) at (926,1085.4) {Scaffold protein};
\node[lgtext] (tOP) at (926,1120.5) {Other protein};
\node[lgtext] (tHYP) at (926,1155.1) {Hypothetical protein};

\node[anchor=base, inner sep=0pt, font=\fontsize{22}{26}\selectfont, xscale=0.87] (bstitle) at (955.5,1290.7) {bootstrap};
\coordinate (ulL) at (906,1300); \coordinate (ulR) at (1007,1300);
\draw[line width=0.8pt] (ulL) -- (ulR);
\foreach \y/\r/\v [count=\k] in {1322/2.5/70, 1363.7/3.5/77.5, 1404.6/4.5/85, 1446.3/5.5/92.5, 1485.8/6.5/100} {
  \filldraw[bs] (915.7,\y) ellipse [x radius=\r, y radius=1.3*\r];
  \node[anchor=west, inner sep=0pt, font=\fontsize{21}{24}\selectfont, xscale=0.74] (bv\k) at (942.5,\y) {\v};
}
\end{scope}
\end{tikzpicture}
\end{document}
